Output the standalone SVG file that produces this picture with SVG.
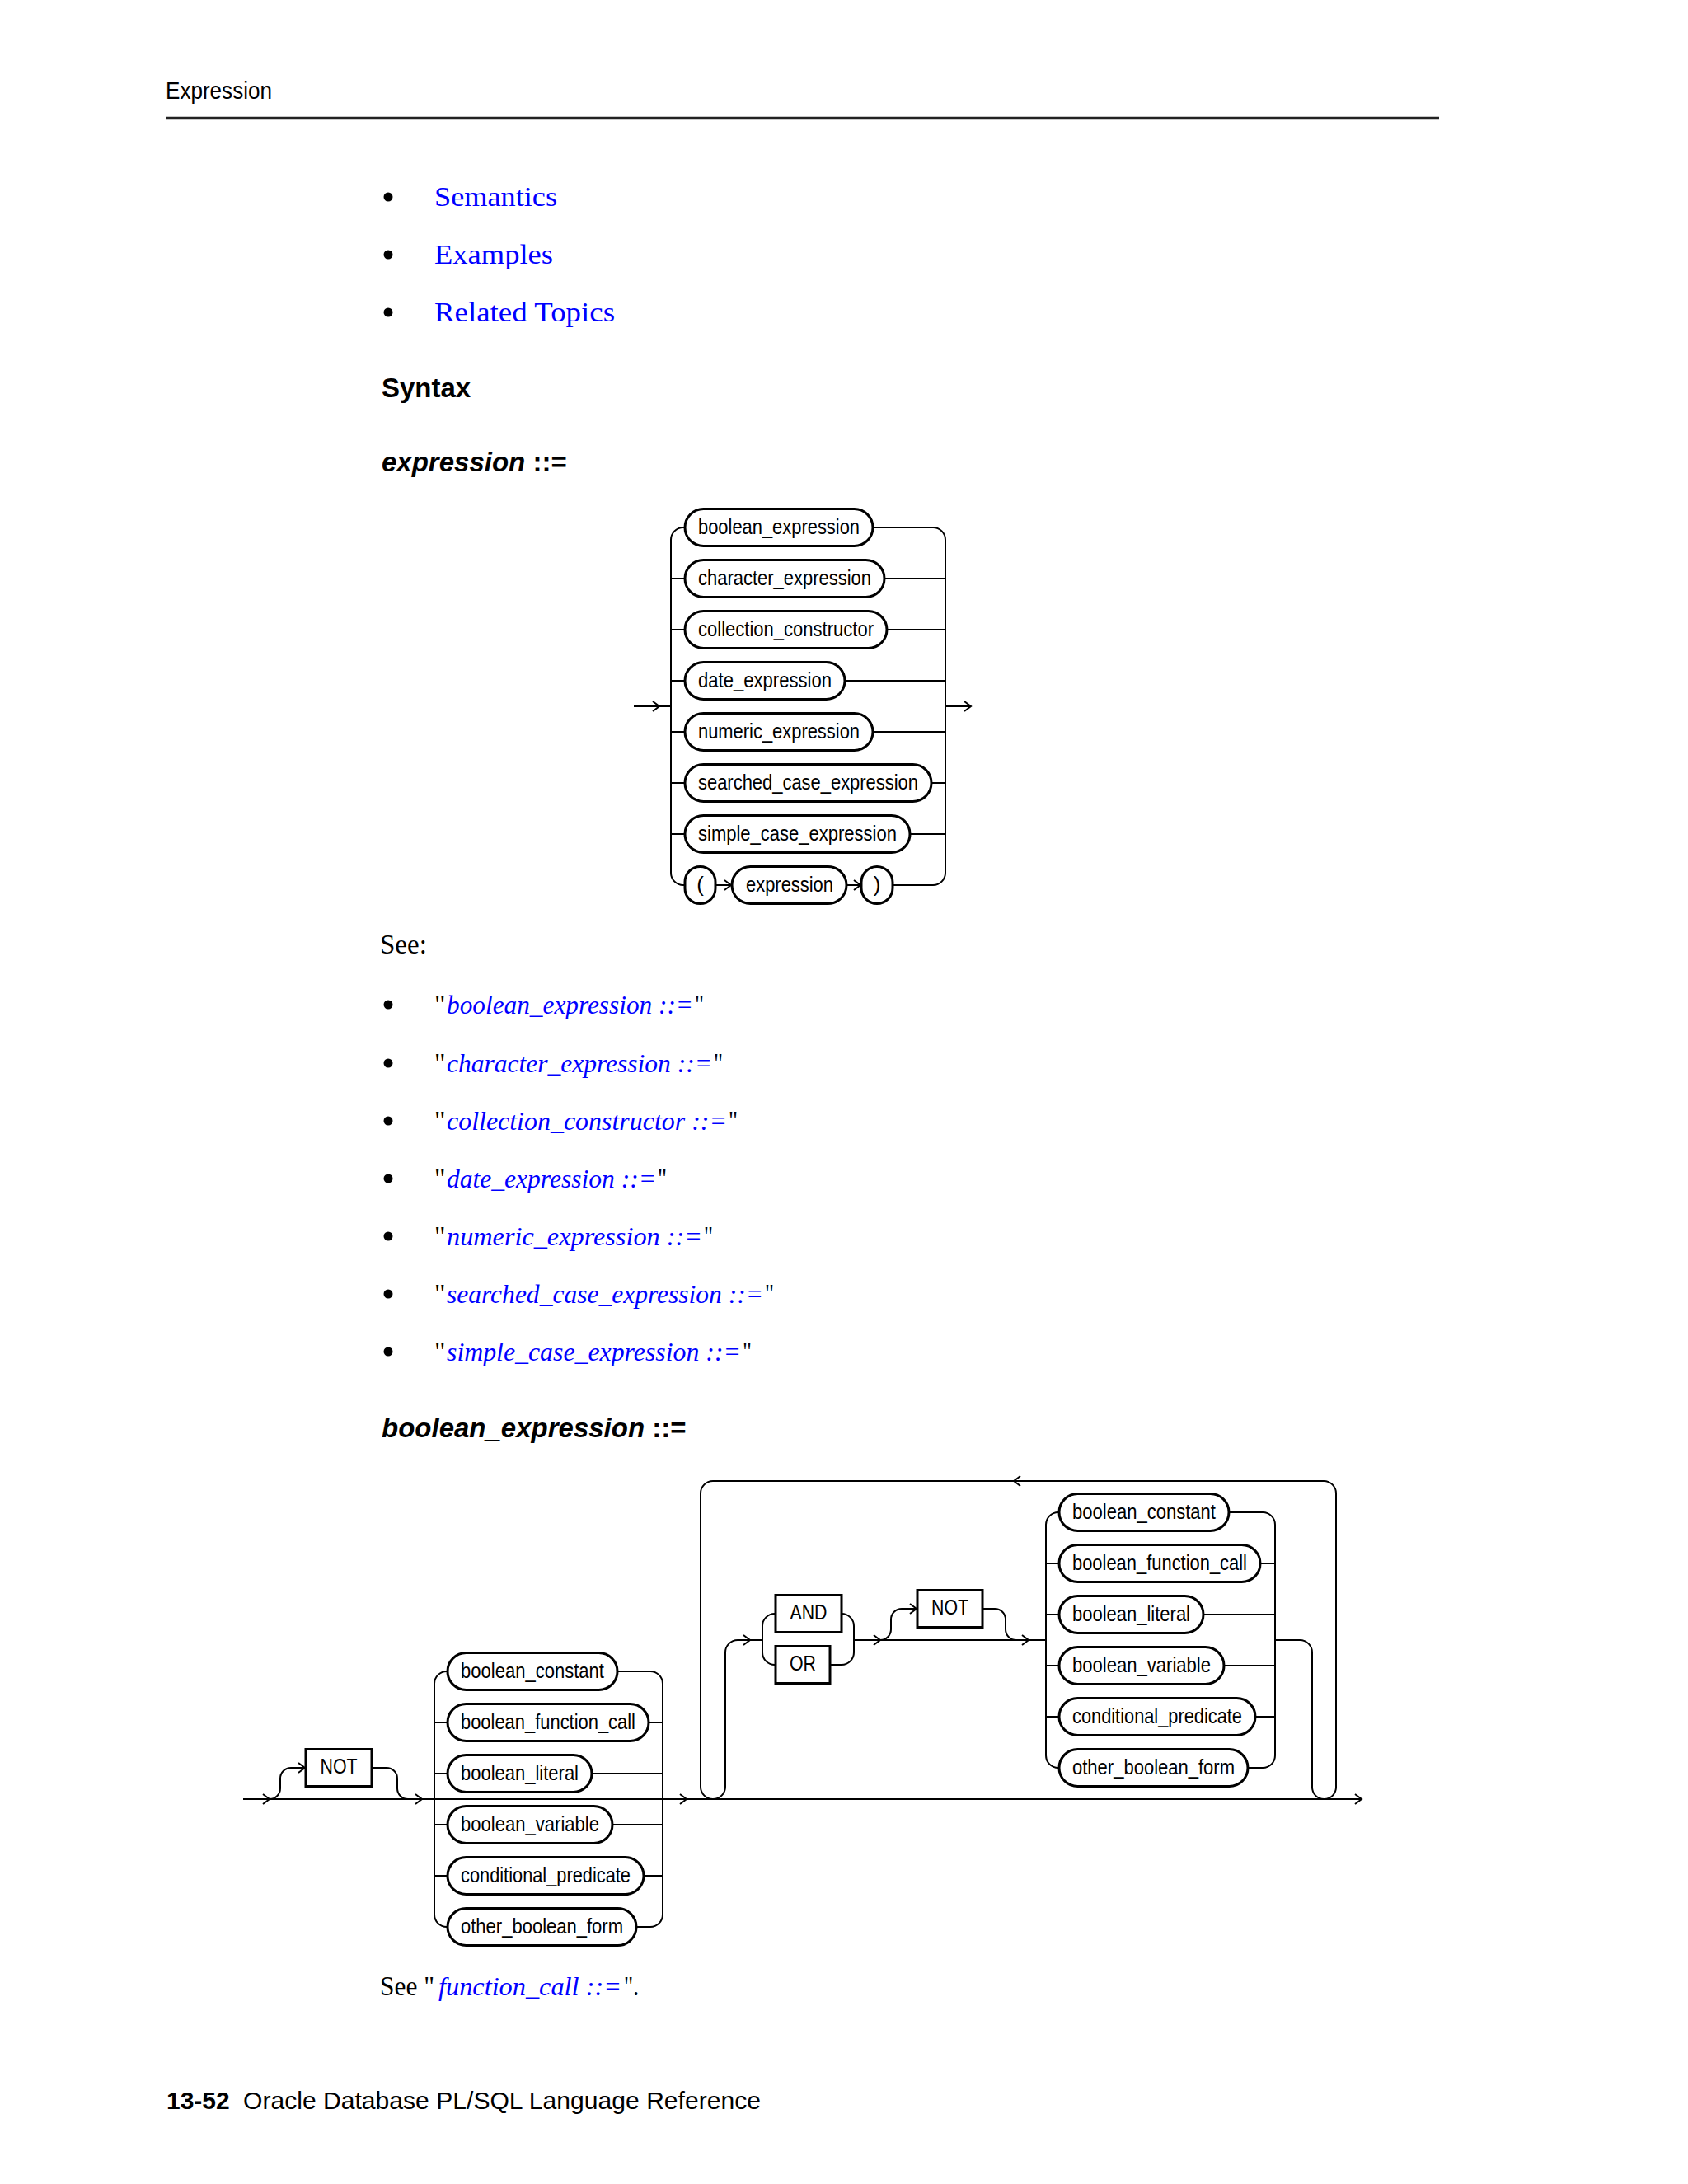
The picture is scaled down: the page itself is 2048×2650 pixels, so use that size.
<svg xmlns="http://www.w3.org/2000/svg" xmlns:xlink="http://www.w3.org/1999/xlink" width="2048" height="2650" viewBox="0 0 2048 2650">
<style>
.ln{fill:none;stroke:#000;stroke-width:2}
.bx{fill:#fff;stroke:#000;stroke-width:3}
.t{font-family:"Liberation Sans",Arial,sans-serif;font-size:26px;fill:#000}
.c{text-anchor:middle}
.sf{font-family:"Liberation Serif","Times New Roman",serif;font-size:33px;fill:#000}
.lk{fill:#0000ff;font-style:italic}
.ls{font-size:31px}
.lk2{fill:#0000ff}
.h{font-family:"Liberation Sans",Arial,sans-serif;font-weight:bold;font-size:33px;fill:#000}
.hi{font-style:italic}
</style>
<defs>
<path id="ar" d="M-8,-6 L0,0 L-8,6" fill="none" stroke="#000" stroke-width="2"/>
<path id="al" d="M8,-6 L0,0 L8,6" fill="none" stroke="#000" stroke-width="2"/>
</defs>
<rect width="2048" height="2650" fill="#fff"/>

<g id="page-header">
<text x="201" y="120" class="t" style="font-size:29px" textLength="129" lengthAdjust="spacingAndGlyphs">Expression</text>
<line x1="201" y1="143" x2="1746" y2="143" stroke="#222" stroke-width="2.5"/>
</g>

<g id="toc-links">
<circle cx="471" cy="239" r="5.5"/>
<text x="527" y="250" class="sf lk2" textLength="149" lengthAdjust="spacingAndGlyphs">Semantics</text>
<circle cx="471" cy="309" r="5.5"/>
<text x="527" y="320" class="sf lk2" textLength="144" lengthAdjust="spacingAndGlyphs">Examples</text>
<circle cx="471" cy="379" r="5.5"/>
<text x="527" y="390" class="sf lk2" textLength="219" lengthAdjust="spacingAndGlyphs">Related Topics</text>
</g>

<text x="463" y="482" class="h">Syntax</text>
<text x="463" y="572" class="h"><tspan class="hi">expression</tspan> ::=</text>

<!-- expression diagram -->
<g id="expr-connectors">
<path class="ln" d="M769,857 H814"/>
<use xlink:href="#ar" x="800" y="857"/>
<path class="ln" d="M1147,857 H1178"/>
<use xlink:href="#ar" x="1178" y="857"/>
<path class="ln" d="M831,640 H829 A15,15 0 0 0 814,655 V1059 A15,15 0 0 0 829,1074 H831"/>
<path class="ln" d="M814,702 H831 M814,764 H831 M814,826 H831 M814,888 H831 M814,950 H831 M814,1012 H831"/>
<path class="ln" d="M1059,640 H1132 A15,15 0 0 1 1147,655 V1059 A15,15 0 0 1 1132,1074 H1083"/>
<path class="ln" d="M1073,702 H1147 M1076,764 H1147 M1025,826 H1147 M1059,888 H1147 M1130,950 H1147 M1104,1012 H1147"/>
<path class="ln" d="M868,1074 H888 M1027,1074 H1045"/>
<use xlink:href="#ar" x="887" y="1074"/>
<use xlink:href="#ar" x="1044" y="1074"/>
</g>
<g id="e-boolean_expression"><rect class="bx" x="831" y="617.5" width="228" height="45" rx="22.5"/><text class="t" x="847" y="648" textLength="196" lengthAdjust="spacingAndGlyphs">boolean_expression</text></g>
<g id="e-character_expression"><rect class="bx" x="831" y="679.5" width="242" height="45" rx="22.5"/><text class="t" x="847" y="710" textLength="210" lengthAdjust="spacingAndGlyphs">character_expression</text></g>
<g id="e-collection_constructor"><rect class="bx" x="831" y="741.5" width="245" height="45" rx="22.5"/><text class="t" x="847" y="772" textLength="213" lengthAdjust="spacingAndGlyphs">collection_constructor</text></g>
<g id="e-date_expression"><rect class="bx" x="831" y="803.5" width="194" height="45" rx="22.5"/><text class="t" x="847" y="834" textLength="162" lengthAdjust="spacingAndGlyphs">date_expression</text></g>
<g id="e-numeric_expression"><rect class="bx" x="831" y="865.5" width="228" height="45" rx="22.5"/><text class="t" x="847" y="896" textLength="196" lengthAdjust="spacingAndGlyphs">numeric_expression</text></g>
<g id="e-searched_case_expression"><rect class="bx" x="831" y="927.5" width="299" height="45" rx="22.5"/><text class="t" x="847" y="958" textLength="267" lengthAdjust="spacingAndGlyphs">searched_case_expression</text></g>
<g id="e-simple_case_expression"><rect class="bx" x="831" y="989.5" width="273" height="45" rx="22.5"/><text class="t" x="847" y="1020" textLength="241" lengthAdjust="spacingAndGlyphs">simple_case_expression</text></g>
<g id="e-lparen"><rect class="bx" x="831" y="1051.5" width="37" height="45" rx="18.5"/><text class="t c" x="849.5" y="1082">(</text></g>
<g id="e-expression"><rect class="bx" x="888" y="1051.5" width="139" height="45" rx="22.5"/><text class="t" x="905" y="1082" textLength="106" lengthAdjust="spacingAndGlyphs">expression</text></g>
<g id="e-rparen"><rect class="bx" x="1045" y="1051.5" width="38" height="45" rx="19"/><text class="t c" x="1064" y="1082">)</text></g>

<g id="see-list">
<text x="461" y="1157" class="sf">See:</text>
<circle cx="471" cy="1219" r="5.5"/>
<text x="527" y="1230" class="sf">"</text><text x="542" y="1230" class="sf lk ls" textLength="299" lengthAdjust="spacingAndGlyphs">boolean_expression ::=</text><text x="843" y="1230" class="sf" textLength="11" lengthAdjust="spacingAndGlyphs">"</text>
<circle cx="471" cy="1290" r="5.5"/>
<text x="527" y="1301" class="sf">"</text><text x="542" y="1301" class="sf lk ls" textLength="322" lengthAdjust="spacingAndGlyphs">character_expression ::=</text><text x="866" y="1301" class="sf" textLength="11" lengthAdjust="spacingAndGlyphs">"</text>
<circle cx="471" cy="1360" r="5.5"/>
<text x="527" y="1371" class="sf">"</text><text x="542" y="1371" class="sf lk ls" textLength="340" lengthAdjust="spacingAndGlyphs">collection_constructor ::=</text><text x="884" y="1371" class="sf" textLength="11" lengthAdjust="spacingAndGlyphs">"</text>
<circle cx="471" cy="1430" r="5.5"/>
<text x="527" y="1441" class="sf">"</text><text x="542" y="1441" class="sf lk ls" textLength="254" lengthAdjust="spacingAndGlyphs">date_expression ::=</text><text x="798" y="1441" class="sf" textLength="11" lengthAdjust="spacingAndGlyphs">"</text>
<circle cx="471" cy="1500" r="5.5"/>
<text x="527" y="1511" class="sf">"</text><text x="542" y="1511" class="sf lk ls" textLength="310" lengthAdjust="spacingAndGlyphs">numeric_expression ::=</text><text x="854" y="1511" class="sf" textLength="11" lengthAdjust="spacingAndGlyphs">"</text>
<circle cx="471" cy="1570" r="5.5"/>
<text x="527" y="1581" class="sf">"</text><text x="542" y="1581" class="sf lk ls" textLength="384" lengthAdjust="spacingAndGlyphs">searched_case_expression ::=</text><text x="928" y="1581" class="sf" textLength="11" lengthAdjust="spacingAndGlyphs">"</text>
<circle cx="471" cy="1640" r="5.5"/>
<text x="527" y="1651" class="sf">"</text><text x="542" y="1651" class="sf lk ls" textLength="357" lengthAdjust="spacingAndGlyphs">simple_case_expression ::=</text><text x="901" y="1651" class="sf" textLength="11" lengthAdjust="spacingAndGlyphs">"</text>
</g>

<text x="463" y="1744" class="h"><tspan class="hi">boolean_expression</tspan> ::=</text>

<!-- boolean_expression diagram -->
<g id="bool-connectors">
<path class="ln" d="M295,2183 H1652"/>
<use xlink:href="#ar" x="327" y="2183"/>
<use xlink:href="#ar" x="512" y="2183"/>
<use xlink:href="#ar" x="833" y="2183"/>
<use xlink:href="#ar" x="1652" y="2183"/>
<path class="ln" d="M327,2183 A13,13 0 0 0 340,2170 V2158 A13,13 0 0 1 353,2145 H371"/>
<use xlink:href="#ar" x="370" y="2145"/>
<path class="ln" d="M451,2145 H469 A13,13 0 0 1 482,2158 V2170 A13,13 0 0 0 495,2183"/>
<path class="ln" d="M543,2028 H542 A15,15 0 0 0 527,2043 V2323 A15,15 0 0 0 542,2338 H543"/>
<path class="ln" d="M527,2090 H543 M527,2152 H543 M527,2214 H543 M527,2276 H543"/>
<path class="ln" d="M749,2028 H789 A15,15 0 0 1 804,2043 V2323 A15,15 0 0 1 789,2338 H772"/>
<path class="ln" d="M787,2090 H804 M718,2152 H804 M743,2214 H804 M781,2276 H804"/>
<path class="ln" d="M865,2183 A15,15 0 0 1 850,2168 V1812 A15,15 0 0 1 865,1797 H1606 A15,15 0 0 1 1621,1812 V2168 A14.5,14.5 0 0 1 1606.5,2183"/>
<use xlink:href="#al" x="1230" y="1797"/>
<path class="ln" d="M865,2183 A15,15 0 0 0 880,2168 V2005 A15,15 0 0 1 895,1990 H925"/>
<use xlink:href="#ar" x="910" y="1990"/>
<path class="ln" d="M941,1958 H940 A15,15 0 0 0 925,1973 V2005 A15,15 0 0 0 940,2020 H941"/>
<path class="ln" d="M1021,1958 A15,15 0 0 1 1036,1973 V2005 A15,15 0 0 1 1021,2020 H1007"/>
<path class="ln" d="M1036,1990 H1269"/>
<use xlink:href="#ar" x="1068" y="1990"/>
<use xlink:href="#ar" x="1248" y="1990"/>
<path class="ln" d="M1068,1990 A13,13 0 0 0 1081,1977 V1965 A13,13 0 0 1 1094,1952 H1113"/>
<use xlink:href="#ar" x="1112" y="1952"/>
<path class="ln" d="M1192,1952 H1207 A13,13 0 0 1 1220,1965 V1977 A13,13 0 0 0 1233,1990"/>
<path class="ln" d="M1285,1835 H1284 A15,15 0 0 0 1269,1850 V2130 A15,15 0 0 0 1284,2145 H1285"/>
<path class="ln" d="M1269,1897 H1285 M1269,1959 H1285 M1269,2021 H1285 M1269,2083 H1285"/>
<path class="ln" d="M1491,1835 H1532 A15,15 0 0 1 1547,1850 V2130 A15,15 0 0 1 1532,2145 H1514"/>
<path class="ln" d="M1529,1897 H1547 M1460,1959 H1547 M1485,2021 H1547 M1523,2083 H1547"/>
<path class="ln" d="M1547,1990 H1577 A15,15 0 0 1 1592,2005 V2168 A14.5,14.5 0 0 0 1606.5,2183"/>
</g>

<g id="b-not1"><rect class="bx" x="371" y="2122.5" width="80" height="45"/><text class="t c" x="411" y="2152" textLength="45" lengthAdjust="spacingAndGlyphs">NOT</text></g>
<g id="b1-boolean_constant"><rect class="bx" x="543" y="2005.5" width="206" height="45" rx="22.5"/><text class="t" x="559" y="2036" textLength="174" lengthAdjust="spacingAndGlyphs">boolean_constant</text></g>
<g id="b1-boolean_function_call"><rect class="bx" x="543" y="2067.5" width="244" height="45" rx="22.5"/><text class="t" x="559" y="2098" textLength="212" lengthAdjust="spacingAndGlyphs">boolean_function_call</text></g>
<g id="b1-boolean_literal"><rect class="bx" x="543" y="2129.5" width="175" height="45" rx="22.5"/><text class="t" x="559" y="2160" textLength="143" lengthAdjust="spacingAndGlyphs">boolean_literal</text></g>
<g id="b1-boolean_variable"><rect class="bx" x="543" y="2191.5" width="200" height="45" rx="22.5"/><text class="t" x="559" y="2222" textLength="168" lengthAdjust="spacingAndGlyphs">boolean_variable</text></g>
<g id="b1-conditional_predicate"><rect class="bx" x="543" y="2253.5" width="238" height="45" rx="22.5"/><text class="t" x="559" y="2284" textLength="206" lengthAdjust="spacingAndGlyphs">conditional_predicate</text></g>
<g id="b1-other_boolean_form"><rect class="bx" x="543" y="2315.5" width="229" height="45" rx="22.5"/><text class="t" x="559" y="2346" textLength="197" lengthAdjust="spacingAndGlyphs">other_boolean_form</text></g>

<g id="b-and"><rect class="bx" x="941" y="1935.5" width="80" height="45"/><text class="t c" x="981" y="1965" textLength="45" lengthAdjust="spacingAndGlyphs">AND</text></g>
<g id="b-or"><rect class="bx" x="941" y="1997.5" width="66" height="45"/><text class="t c" x="974" y="2027" textLength="32" lengthAdjust="spacingAndGlyphs">OR</text></g>
<g id="b-not2"><rect class="bx" x="1113" y="1929.5" width="79" height="45"/><text class="t c" x="1152.5" y="1959" textLength="45" lengthAdjust="spacingAndGlyphs">NOT</text></g>
<g id="b2-boolean_constant"><rect class="bx" x="1285" y="1812.5" width="206" height="45" rx="22.5"/><text class="t" x="1301" y="1843" textLength="174" lengthAdjust="spacingAndGlyphs">boolean_constant</text></g>
<g id="b2-boolean_function_call"><rect class="bx" x="1285" y="1874.5" width="244" height="45" rx="22.5"/><text class="t" x="1301" y="1905" textLength="212" lengthAdjust="spacingAndGlyphs">boolean_function_call</text></g>
<g id="b2-boolean_literal"><rect class="bx" x="1285" y="1936.5" width="175" height="45" rx="22.5"/><text class="t" x="1301" y="1967" textLength="143" lengthAdjust="spacingAndGlyphs">boolean_literal</text></g>
<g id="b2-boolean_variable"><rect class="bx" x="1285" y="1998.5" width="200" height="45" rx="22.5"/><text class="t" x="1301" y="2029" textLength="168" lengthAdjust="spacingAndGlyphs">boolean_variable</text></g>
<g id="b2-conditional_predicate"><rect class="bx" x="1285" y="2060.5" width="238" height="45" rx="22.5"/><text class="t" x="1301" y="2091" textLength="206" lengthAdjust="spacingAndGlyphs">conditional_predicate</text></g>
<g id="b2-other_boolean_form"><rect class="bx" x="1285" y="2122.5" width="229" height="45" rx="22.5"/><text class="t" x="1301" y="2153" textLength="197" lengthAdjust="spacingAndGlyphs">other_boolean_form</text></g>

<g id="see-function-call">
<text x="461" y="2421" class="sf" textLength="66" lengthAdjust="spacingAndGlyphs">See "</text>
<text x="532" y="2421" class="sf lk ls" textLength="222" lengthAdjust="spacingAndGlyphs">function_call ::=</text>
<text x="757" y="2421" class="sf" textLength="18" lengthAdjust="spacingAndGlyphs">".</text>
</g>

<g id="page-footer">
<text x="202" y="2559" class="h" style="font-size:30px">13-52</text>
<text x="295" y="2559" class="t" style="font-size:30px" textLength="628" lengthAdjust="spacingAndGlyphs">Oracle Database PL/SQL Language Reference</text>
</g>
</svg>
